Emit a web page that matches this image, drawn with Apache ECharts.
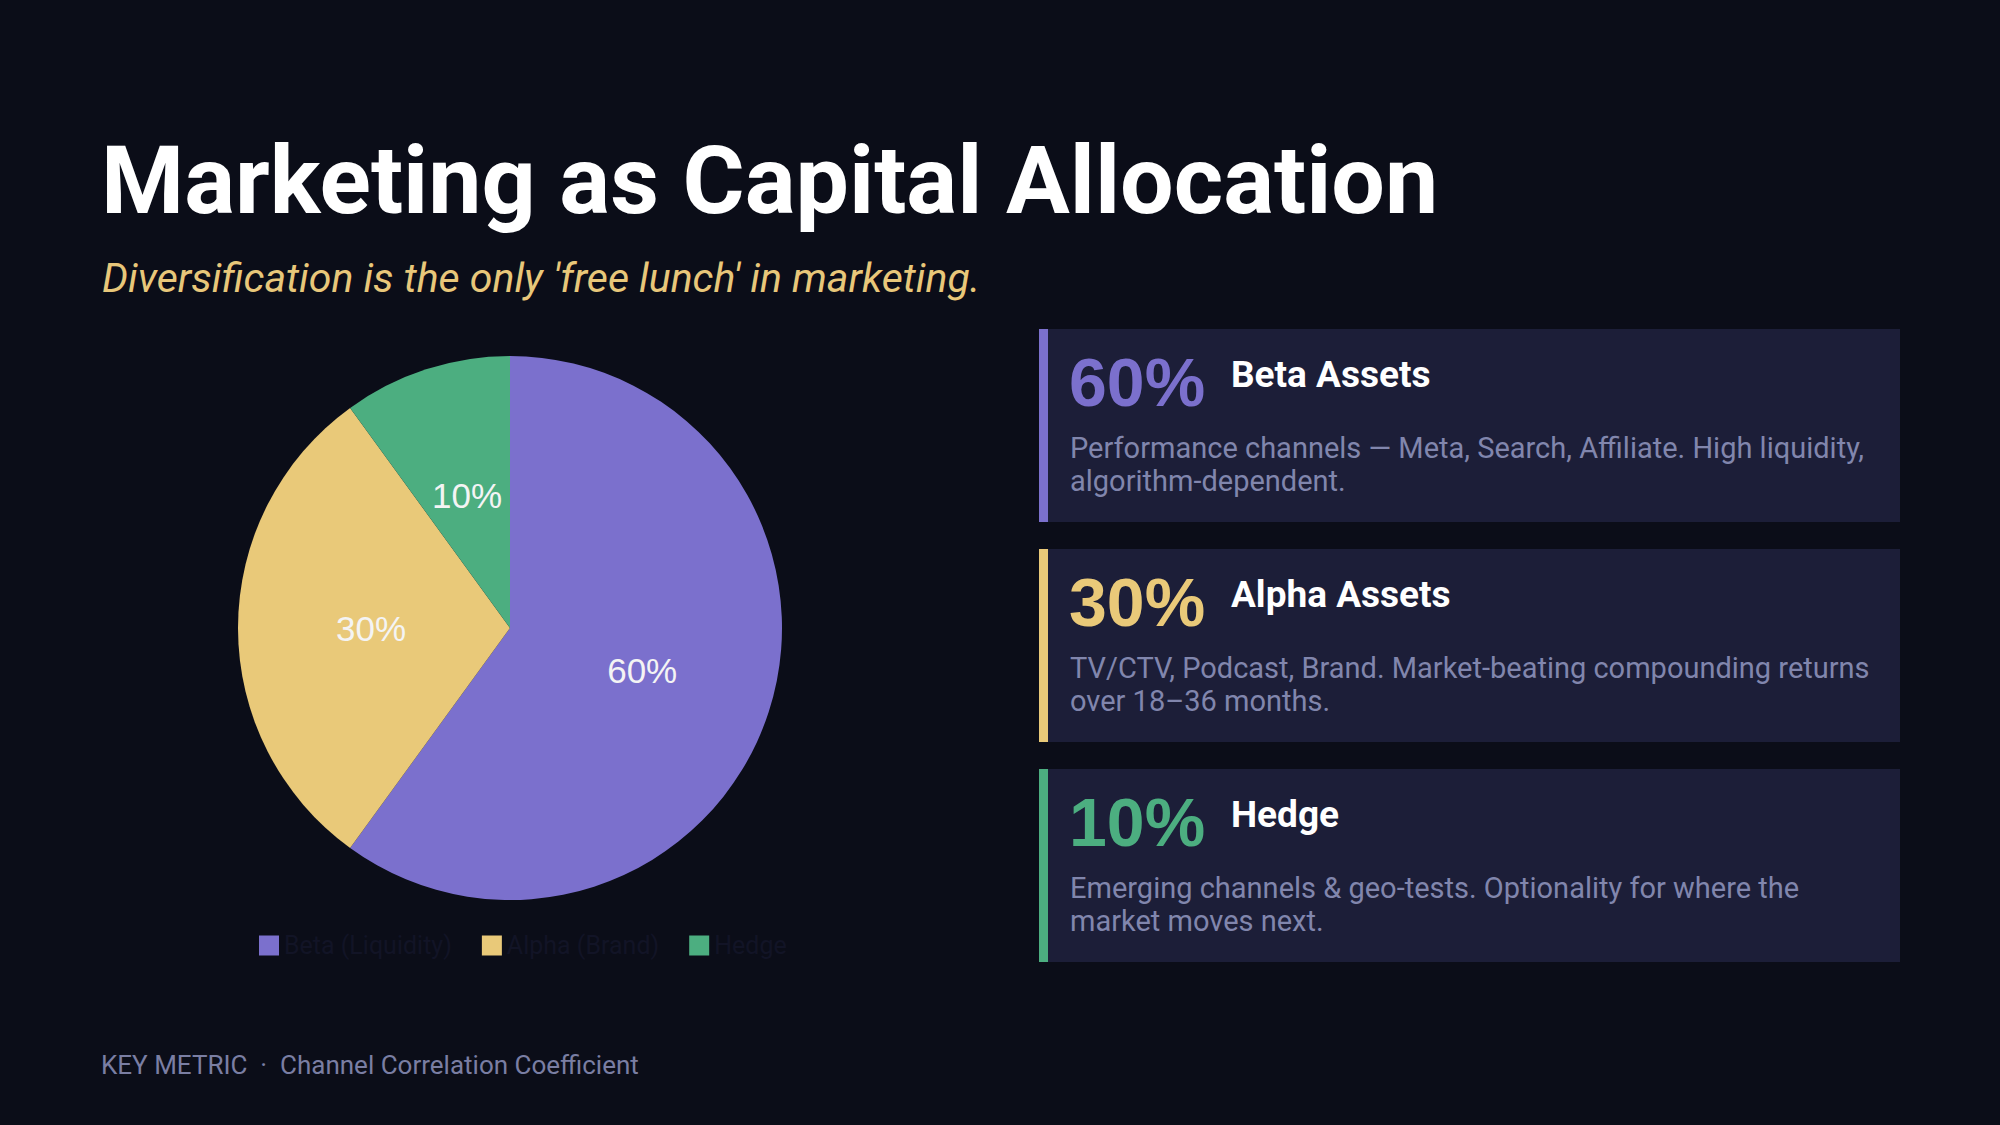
<!DOCTYPE html>
<html>
<head>
<meta charset="utf-8">
<script src="https://cdn.jsdelivr.net/npm/echarts@6/dist/echarts.min.js"></script>
<style>
  html, body { margin: 0; padding: 0; background: #0b0d18; }
  #main { width: 2000px; height: 1125px; }
</style>
</head>
<body>
<div id="main"></div>
<script>
// 饼图数据
var categories = ['Beta (Liquidity)', 'Alpha (Brand)', 'Hedge'];
var shares = [60, 30, 10];
var colors = ['#7b70cd', '#e9c979', '#4cae80'];

// 右侧卡片文字
var cardTitles = ['Beta Assets', 'Alpha Assets', 'Hedge'];
var cardTexts = [
  'Performance channels \u2014 Meta, Search, Affiliate. High liquidity,\nalgorithm-dependent.',
  'TV/CTV, Podcast, Brand. Market-beating compounding returns\nover 18\u201336 months.',
  'Emerging channels & geo-tests. Optionality for where the\nmarket moves next.'
];

var chart = echarts.init(document.getElementById('main'), null, { renderer: 'svg' });

var graphics = [
  {
    type: 'text', left: 101, top: 133,
    style: { text: 'Marketing as Capital Allocation', fill: '#ffffff',
      font: 'bold 95px Roboto, sans-serif' }
  },
  {
    type: 'text', left: 102, top: 257,
    style: { text: "Diversification is the only 'free lunch' in marketing.", fill: '#e8c77a',
      font: 'italic 41px Roboto, sans-serif' }
  },
  {
    type: 'text', left: 101, top: 1052,
    style: { text: 'KEY METRIC  \u00b7  Channel Correlation Coefficient', fill: '#7a7ea3',
      font: '26px Roboto, sans-serif' }
  }
];

// 卡片
for (var i = 0; i < shares.length; i++) {
  var cardTop = 329 + 220 * i;
  graphics.push({
    type: 'rect', shape: { x: 1039, y: cardTop, width: 861, height: 193 },
    style: { fill: '#1c1e38' }, silent: true
  });
  graphics.push({
    type: 'rect', shape: { x: 1039, y: cardTop, width: 9, height: 193 },
    style: { fill: colors[i] }, silent: true
  });
  graphics.push({
    type: 'text', x: 1069, y: cardTop + 53,
    style: { text: shares[i] + '%', fill: colors[i], textVerticalAlign: 'middle',
      font: 'bold 68px "Liberation Sans", Arial, sans-serif' }
  });
  graphics.push({
    type: 'text', x: 1231, y: cardTop + 45,
    style: { text: cardTitles[i], fill: '#ffffff', textVerticalAlign: 'middle',
      font: 'bold 37px Roboto, sans-serif' }
  });
  graphics.push({
    type: 'text', x: 1070, y: cardTop + 102,
    style: { text: cardTexts[i], fill: '#8186ad', lineHeight: 33,
      font: '29px Roboto, sans-serif' }
  });
}

var option = {
  backgroundColor: '#0b0d18',
  color: colors,
  legend: {
    data: categories,
    left: 254,
    top: 928,
    itemWidth: 20,
    itemHeight: 20,
    itemGap: 30,
    icon: 'rect',
    textStyle: { color: '#121426', fontSize: 25, fontFamily: 'Roboto, sans-serif' }
  },
  graphic: graphics,
  series: [{
    type: 'pie',
    center: [510, 628],
    radius: 272,
    startAngle: 90,
    clockwise: true,
    label: {
      show: true,
      position: 'inside',
      formatter: '{d}%',
      color: '#f4f4f4',
      fontSize: 35,
      fontFamily: '"Liberation Sans", Arial, sans-serif'
    },
    labelLine: { show: false },
    itemStyle: { borderWidth: 0 },
    data: categories.map(function (c, k) { return { name: c, value: shares[k] }; })
  }]
};

chart.setOption(option);
</script>
</body>
</html>
